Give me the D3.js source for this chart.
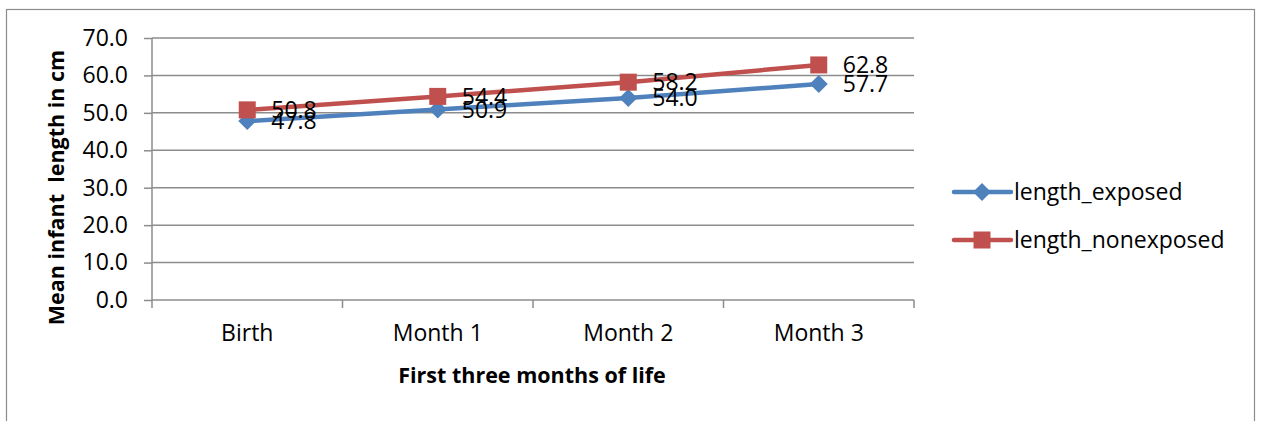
<!DOCTYPE html>
<html><head><meta charset="utf-8">
<script src="https://cdn.jsdelivr.net/npm/d3@7"></script>
<style>body{margin:0;background:#fff}svg{display:block}</style>
</head><body>
<svg id="c" width="1261" height="421"></svg>
<script>
const categories = ["Birth", "Month 1", "Month 2", "Month 3"];
const exposed = [47.8, 50.9, 54.0, 57.7];
const nonexposed = [50.8, 54.4, 58.2, 62.8];
const seriesNames = ["length_exposed", "length_nonexposed"];
const yTicks = [0, 10, 20, 30, 40, 50, 60, 70];
const yTitle = "Mean infant  length in cm";
const xTitle = "First three months of life";

const FONT = "'Open Sans', Lato, sans-serif";
const FS = 23;
const colors = ["#4F81BD", "#C0504D"];
const grid = "#8c8c8c";
const svg = d3.select("#c");

svg.append("rect").attr("x", 6.5).attr("y", 9.5).attr("width", 1248).attr("height", 430)
  .attr("fill", "#fff").attr("stroke", "#8c8c8c").attr("stroke-width", 1.2);

const L = 152, R = 914, T = 38, B = 300;
const x = d3.scaleBand().domain(categories).range([L, R]);
const y = d3.scaleLinear().domain([0, 70]).range([B, T]);

// gridlines
svg.append("g").selectAll("line").data(yTicks.slice(1)).join("line")
  .attr("x1", L).attr("x2", R).attr("y1", d => y(d)).attr("y2", d => y(d))
  .attr("stroke", grid).attr("stroke-width", 1.5);

// y axis
const ya = svg.append("g").attr("transform", `translate(${L},0)`)
  .call(d3.axisLeft(y).tickValues(yTicks).tickFormat(d3.format(".1f")).tickSize(8).tickPadding(16));
ya.select(".domain").attr("stroke", grid).attr("stroke-width", 1.5).attr("d", `M0,${T}V${B}`);
ya.selectAll(".tick line").attr("stroke", grid).attr("stroke-width", 1.5);
ya.selectAll("text").attr("font-family", FONT).attr("font-size", FS).attr("fill", "#000");

// x axis
const xa = svg.append("g").attr("transform", `translate(0,${B})`)
  .call(d3.axisBottom(x).tickSize(0).tickPadding(25));
xa.select(".domain").attr("stroke", grid).attr("stroke-width", 1.5).attr("d", `M${L},0H${R}`);
xa.selectAll("text").attr("font-family", FONT).attr("font-size", FS).attr("fill", "#000");
const bounds = categories.map(c => x(c)).concat([R]);
xa.append("g").selectAll("line").data(bounds).join("line")
  .attr("x1", d => d).attr("x2", d => d).attr("y1", 0).attr("y2", 8)
  .attr("stroke", grid).attr("stroke-width", 1.5);

// titles
svg.append("text").attr("transform", `translate(64,${187.5}) rotate(-90)`)
  .attr("text-anchor", "middle").attr("font-family", FONT).attr("font-weight", "bold")
  .attr("font-size", 21.5).attr("fill", "#000").attr("xml:space", "preserve").text(yTitle);
svg.append("text").attr("x", 532).attr("y", 383)
  .attr("text-anchor", "middle").attr("font-family", FONT).attr("font-weight", "bold")
  .attr("font-size", 21.5).attr("fill", "#000").text(xTitle);

const cx = c => x(c) + x.bandwidth() / 2;
const data = [exposed, nonexposed];
const line = d3.line().x((d, i) => cx(categories[i])).y(d => y(d));

function marker(g, k, px, py) {
  if (k === 0) {
    g.append("path").attr("d", `M${px},${py - 9}L${px + 9},${py}L${px},${py + 9}L${px - 9},${py}Z`).attr("fill", colors[0]);
  } else {
    g.append("rect").attr("x", px - 8.5).attr("y", py - 8.5).attr("width", 17).attr("height", 17).attr("fill", colors[1]);
  }
}

data.forEach((vals, k) => {
  const g = svg.append("g");
  g.append("path").datum(vals).attr("d", line).attr("fill", "none")
    .attr("stroke", colors[k]).attr("stroke-width", 4.5).attr("stroke-linejoin", "round");
  vals.forEach((v, i) => marker(g, k, cx(categories[i]), y(v)));
});
data.forEach((vals, k) => {
  svg.append("g").selectAll("text").data(vals).join("text")
    .attr("x", (d, i) => cx(categories[i]) + 24).attr("y", d => y(d))
    .attr("dy", "0.36em").attr("font-family", FONT).attr("font-size", FS).attr("fill", "#000")
    .text(d => d.toFixed(1));
});

// legend
seriesNames.forEach((n, k) => {
  const ly = 192 + k * 48;
  const g = svg.append("g");
  g.append("line").attr("x1", 954).attr("x2", 1011).attr("y1", ly).attr("y2", ly)
    .attr("stroke", colors[k]).attr("stroke-width", 4.5).attr("stroke-linecap", "round");
  marker(g, k, 982, ly);
  g.append("text").attr("x", 1014).attr("y", ly).attr("dy", "0.36em")
    .attr("font-family", FONT).attr("font-size", FS).attr("fill", "#000").text(n);
});
</script>
</body></html>
